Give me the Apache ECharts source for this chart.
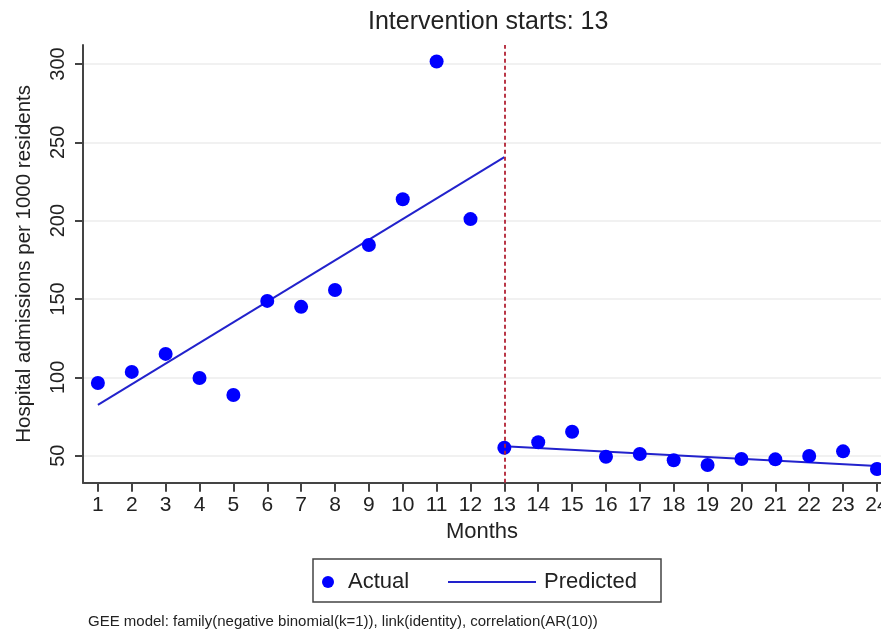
<!DOCTYPE html>
<html>
<head>
<meta charset="utf-8">
<script src="https://cdn.jsdelivr.net/npm/echarts@6/dist/echarts.min.js"></script>
<style>html,body{margin:0;padding:0;background:#fff}#c{width:881px;height:631px}</style>
</head>
<body>
<div id="c"></div>
<script>
const months = [1,2,3,4,5,6,7,8,9,10,11,12,13,14,15,16,17,18,19,20,21,22,23,24];
const actual = [96.4,103.5,115,99.6,88.8,148.8,145,155.8,184.5,213.7,301.6,201,55.1,58.6,65.3,49.4,51.1,47.1,44.1,47.9,47.7,49.8,52.8,41.5];
const predPreMonths = [1,13];
const predPre = [82.5,240.5];
const predPostMonths = [13,24];
const predPost = [56,43.5];
const interventionMonth = 13;
const yTicks = [50,100,150,200,250,300];
const xTicks = months;
const titleText = 'Intervention starts: 13';
const footnote = 'GEE model: family(negative binomial(k=1)), link(identity), correlation(AR(10))';

const FONT = '"Liberation Sans", Arial, sans-serif';
const TXT = '#222';
const chart = echarts.init(document.getElementById('c'), null, {renderer:'canvas'});
chart.setOption({
  animation:false,
  textStyle:{fontFamily:FONT},
  title:[
    {text:titleText,left:368,top:10,padding:0,textStyle:{fontSize:25,fontWeight:'normal',color:TXT,fontFamily:FONT}},
    {text:footnote,left:88,top:614,padding:0,textStyle:{fontSize:15,fontWeight:'normal',color:TXT,fontFamily:FONT}}
  ],
  grid:{left:83,right:0,top:45,bottom:148.3,containLabel:false,outerBoundsMode:'none'},
  xAxis:{
    type:'value',min:0.56,max:24.12,
    name:'Months',nameLocation:'middle',nameGap:37,
    nameTextStyle:{fontSize:22,color:TXT,fontFamily:FONT},
    axisLine:{show:true,onZero:false,lineStyle:{color:'#444',width:2}},
    axisTick:{show:true,length:9,customValues:xTicks,lineStyle:{color:'#444',width:2}},
    axisLabel:{customValues:xTicks,fontSize:21,color:TXT,margin:12,fontFamily:FONT,hideOverlap:false},
    splitLine:{show:false}
  },
  yAxis:{
    type:'value',min:32.8,max:312.1,
    name:'Hospital admissions per 1000 residents',nameLocation:'middle',nameGap:48,nameRotate:90,
    nameTextStyle:{fontSize:20.5,color:TXT,fontFamily:FONT},
    axisLine:{show:true,lineStyle:{color:'#444',width:2}},
    axisTick:{show:true,length:8,customValues:yTicks,lineStyle:{color:'#444',width:2}},
    axisLabel:{customValues:yTicks,rotate:90,fontSize:20,color:TXT,margin:15,fontFamily:FONT},
    splitLine:{show:true,lineStyle:{color:'#ececec',width:1.5}}
  },
  legend:[
    {data:['Actual'],left:322,top:571,itemWidth:30,itemHeight:12,icon:'circle',padding:0,
     textStyle:{fontSize:22,color:TXT,fontFamily:FONT}},
    {data:['Predicted'],left:447,top:571,itemWidth:88,itemHeight:12,padding:0,
     itemStyle:{opacity:0},
     textStyle:{fontSize:22,color:TXT,fontFamily:FONT,padding:[0,0,0,3]}}
  ],
  graphic:[
    {type:'rect',shape:{x:313,y:559,width:348,height:43},style:{fill:'none',stroke:'#444',lineWidth:1.5},z:100}
  ],
  series:[
    {name:'Predicted',type:'line',symbol:'none',
     data:predPreMonths.map((m,i)=>[m,predPre[i]]),
     lineStyle:{color:'#2222cc',width:2},itemStyle:{color:'#2222cc'},z:2,
     markLine:{silent:true,symbol:'none',label:{show:false},
       lineStyle:{color:'#b22234',width:1.8,type:[4,3]},
       data:[{xAxis:interventionMonth}]}},
    {name:'Predicted',type:'line',symbol:'none',
     data:predPostMonths.map((m,i)=>[m,predPost[i]]),
     lineStyle:{color:'#2222cc',width:2},itemStyle:{color:'#2222cc'},z:2},
    {name:'Actual',type:'scatter',symbol:'circle',symbolSize:14,
     data:months.map((m,i)=>[m,actual[i]]),
     itemStyle:{color:'#0000ff',opacity:1},z:3}
  ]
});
</script>
</body>
</html>
